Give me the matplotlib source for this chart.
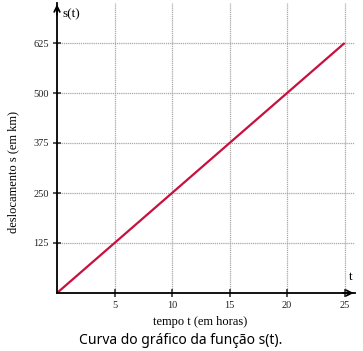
import matplotlib.pyplot as plt
import numpy as np

# s(t) = 25 t
t_values = [0, 25]
s_values = [0, 625]
x_ticks = [5, 10, 15, 20, 25]
y_ticks = [125, 250, 375, 500, 625]


def main():
    fig = plt.figure(figsize=(3.63, 3.51), dpi=100)
    ax = fig.add_axes([57 / 363, 58 / 351, 298 / 363, 290 / 351])

    ax.set_xlim(0, 25.9)
    ax.set_ylim(0, 725)

    ax.plot(t_values, s_values, color='#c8103e', lw=1.6, solid_capstyle='butt', zorder=3)

    for x in x_ticks:
        ax.axvline(x, color='#a8a8a8', lw=0.9, ls=(0, (1, 0.7)), zorder=1)
    for y in y_ticks:
        ax.axhline(y, color='#a8a8a8', lw=0.9, ls=(0, (1, 0.7)), zorder=1)

    for side in ['top', 'right']:
        ax.spines[side].set_visible(False)
    for side in ['left', 'bottom']:
        ax.spines[side].set_linewidth(1.3)
        ax.spines[side].set_zorder(4)

    ax.set_xticks(x_ticks)
    ax.set_yticks(y_ticks)
    ax.set_xticklabels([str(v) for v in x_ticks], family='Liberation Serif', fontsize=7.5)
    ax.set_yticklabels([str(v) for v in y_ticks], family='Liberation Serif', fontsize=7.5)
    ax.tick_params(direction='inout', length=6, width=1.1, pad=3, colors='#222222')

    # arrows at the axis ends
    ax.annotate('', xy=(0, 1.005), xycoords='axes fraction', xytext=(0, 0.95),
                arrowprops=dict(arrowstyle='->', lw=1.3, color='black'))
    ax.annotate('', xy=(1.005, 0), xycoords='axes fraction', xytext=(0.95, 0),
                arrowprops=dict(arrowstyle='->', lw=1.3, color='black'))

    ax.text(0.02, 0.96, 's(t)', transform=ax.transAxes, family='Liberation Serif',
            fontsize=9.5, ha='left', va='center')
    ax.text(0.985, 0.035, 't', transform=ax.transAxes, family='Liberation Serif',
            fontsize=9.5, ha='center', va='bottom')

    fig.text(200 / 363, 1 - 322 / 351, 'tempo t (em horas)', family='Liberation Serif',
             fontsize=9, ha='center', va='center')
    fig.text(13 / 363, 1 - 172 / 351, 'deslocamento s (em km)', family='Liberation Serif',
             fontsize=9, ha='center', va='center', rotation=90)
    fig.text(181 / 363, 1 - 340 / 351, 'Curva do gráfico da função s(t).', family='Noto Sans',
             fontsize=10, ha='center', va='center')

    fig.savefig('out.png', dpi=100)


if __name__ == '__main__':
    main()
